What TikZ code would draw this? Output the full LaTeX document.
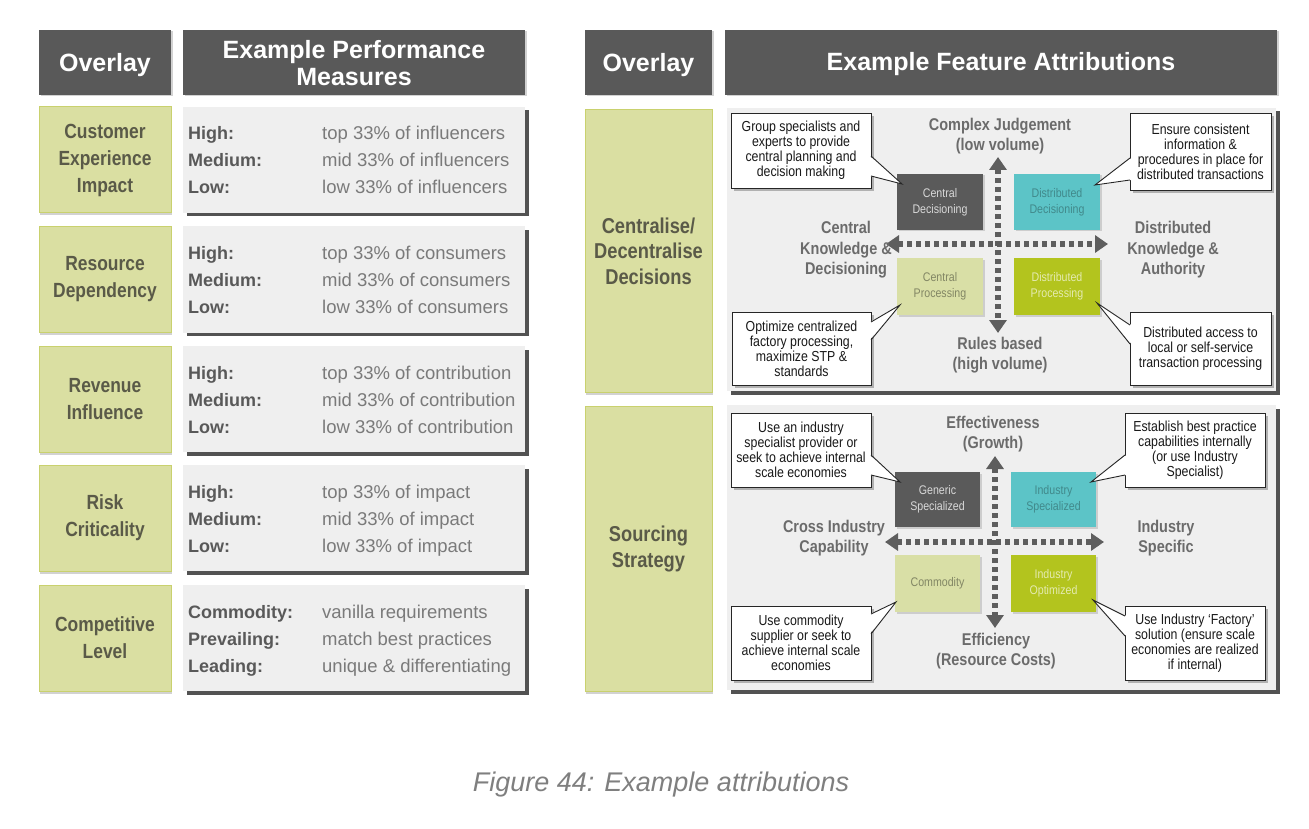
\documentclass[tikz,border=0pt]{standalone}
\usepackage{fontspec}
\setmainfont{Liberation Sans}
\newfontfamily\nsf[FakeStretch=0.85,Ligatures=TeX]{Liberation Sans}
\usetikzlibrary{arrows.meta,shadows}
\definecolor{hdrgray}{HTML}{595959}
\definecolor{olivefill}{HTML}{DADFA2}
\definecolor{olivedraw}{HTML}{C9D16E}
\definecolor{olivetext}{HTML}{5A5A48}
\definecolor{bodyfill}{HTML}{EFEFEF}
\definecolor{labtext}{HTML}{595959}
\definecolor{valtext}{HTML}{7A7A7A}
\definecolor{darkq}{HTML}{5A5A5A}
\definecolor{tealq}{HTML}{5CC4C7}
\definecolor{paleq}{HTML}{D9DFA6}
\definecolor{limeq}{HTML}{B3C41E}
\definecolor{axisgray}{HTML}{5E5E5E}
\definecolor{axtext}{HTML}{6B6B6B}
\definecolor{captext}{HTML}{7F7F7F}
\newcommand{\fsz}[2]{\fontsize{#1}{#2}\selectfont}
\tikzset{
 hdrbox/.style={fill=hdrgray, text=white, font=\bfseries\fsz{25}{27}, align=center, inner sep=0pt,
   drop shadow={shadow xshift=1.5pt, shadow yshift=-1.5pt, opacity=0.35}},
 hdrtext/.style={text=white, font=\bfseries\fsz{25}{27}, align=center, inner sep=0pt},
 olivebox/.style={fill=olivefill, draw=olivedraw, line width=1pt, text=olivetext, align=center, inner sep=0pt,
   drop shadow={shadow xshift=1pt, shadow yshift=-2.5pt, opacity=0.35}},
 lefttitle/.style={olivebox, font=\nsf\bfseries\fsz{20.5}{27}},
 righttitle/.style={olivebox, font=\nsf\bfseries\fsz{21.5}{25.5}},
 bodybox/.style={fill=bodyfill, inner sep=0pt,
   drop shadow={shadow xshift=3.5pt, shadow yshift=-3.5pt, fill=black!68, opacity=1}},
 panel/.style={fill=bodyfill, inner sep=0pt,
   drop shadow={shadow xshift=3.5pt, shadow yshift=-3.5pt, fill=black!68, opacity=1}},
 lab/.style={anchor=base west, inner sep=0pt, text=labtext, font=\bfseries\fsz{18}{20}},
 val/.style={anchor=base west, inner sep=0pt, text=valtext, font=\fsz{18.5}{20}},
 quad/.style={inner sep=0pt, align=center, font=\nsf\fsz{12.5}{16},
   drop shadow={shadow xshift=1.5pt, shadow yshift=-1.5pt, opacity=0.3}},
 axlab/.style={inner sep=0pt, align=center, text=axtext, font=\nsf\bfseries\fsz{17}{20.5}},
 darr/.style={draw=axisgray, line width=5.5pt, dash pattern=on 5pt off 4pt,
   {Triangle[width=17pt,length=13pt]}-{Triangle[width=17pt,length=13pt]}},
 callbox/.style={fill=white, draw=black!85, line width=0.9pt, inner sep=0pt, align=center,
   text=black!90, font=\nsf\fsz{14.5}{15},
   drop shadow={shadow xshift=3pt, shadow yshift=-3pt, fill=black!60, opacity=0.45}},
 callline/.style={draw=black!85, line width=0.9pt, line join=miter},
}
\begin{document}
\begin{tikzpicture}[x=1pt,y=-1pt]
\path[use as bounding box, fill=white] (0,0) rectangle (1309,829);

% ---------- Left table ----------
\node[hdrbox, minimum width=132pt, minimum height=65pt] (lh1) at (105,62.5) {};
\node[hdrtext] (lh1t) at (105,65.5) {Overlay};
\node[hdrbox, minimum width=342pt, minimum height=65pt] (lh2) at (354,62.5) {};
\node[hdrtext] (lh2t) at (354,63.5) {Example Performance\\Measures};

% rows
\node[lefttitle, minimum width=132pt, minimum height=106pt] (g1) at (105,160) {Customer\\Experience\\Impact};
\node[bodybox, minimum width=342pt, minimum height=106pt] (b1) at (354,160) {};
\node[lefttitle, minimum width=132pt, minimum height=106pt] (g2) at (105,279.5) {Resource\\Dependency};
\node[bodybox, minimum width=342pt, minimum height=106pt] (b2) at (354,279.5) {};
\node[lefttitle, minimum width=132pt, minimum height=106pt] (g3) at (105,399) {Revenue\\Influence};
\node[bodybox, minimum width=342pt, minimum height=106pt] (b3) at (354,399) {};
\node[lefttitle, minimum width=132pt, minimum height=106pt] (g4) at (105,518) {Risk\\Criticality};
\node[bodybox, minimum width=342pt, minimum height=106pt] (b4) at (354,518) {};
\node[lefttitle, minimum width=132pt, minimum height=106pt] (g5) at (105,638) {Competitive\\Level};
\node[bodybox, minimum width=342pt, minimum height=106pt] (b5) at (354,638) {};

% row texts
\node[lab] (l11) at (188,140) {High:};
\node[lab] (l12) at (188,167) {Medium:};
\node[lab] (l13) at (188,194) {Low:};
\node[val] (v11) at (322,140) {top 33\% of influencers};
\node[val] (v12) at (322,167) {mid 33\% of influencers};
\node[val] (v13) at (322,194) {low 33\% of influencers};

\node[lab] (l21) at (188,259.5) {High:};
\node[lab] (l22) at (188,286.5) {Medium:};
\node[lab] (l23) at (188,313.5) {Low:};
\node[val] (v21) at (322,259.5) {top 33\% of consumers};
\node[val] (v22) at (322,286.5) {mid 33\% of consumers};
\node[val] (v23) at (322,313.5) {low 33\% of consumers};

\node[lab] (l31) at (188,379) {High:};
\node[lab] (l32) at (188,406) {Medium:};
\node[lab] (l33) at (188,433) {Low:};
\node[val] (v31) at (322,379) {top 33\% of contribution};
\node[val] (v32) at (322,406) {mid 33\% of contribution};
\node[val] (v33) at (322,433) {low 33\% of contribution};

\node[lab] (l41) at (188,498) {High:};
\node[lab] (l42) at (188,525) {Medium:};
\node[lab] (l43) at (188,552) {Low:};
\node[val] (v41) at (322,498) {top 33\% of impact};
\node[val] (v42) at (322,525) {mid 33\% of impact};
\node[val] (v43) at (322,552) {low 33\% of impact};

\node[lab] (l51) at (188,618) {Commodity:};
\node[lab] (l52) at (188,645) {Prevailing:};
\node[lab] (l53) at (188,672) {Leading:};
\node[val] (v51) at (322,618) {vanilla requirements};
\node[val] (v52) at (322,645) {match best practices};
\node[val] (v53) at (322,672) {unique \& differentiating};

% ---------- Right table ----------
\node[hdrbox, minimum width=127pt, minimum height=65pt] (rh1) at (648.5,62.5) {};
\node[hdrtext] (rh1t) at (648.5,65.5) {Overlay};
\node[hdrbox, minimum width=552pt, minimum height=65pt] (rh2) at (1001,62.5) {};
\node[hdrtext] (rh2t) at (1001,64.5) {Example Feature Attributions};

\node[righttitle, minimum width=127pt, minimum height=283pt] (rg1) at (648.5,251) {Centralise/\\Decentralise\\Decisions};
\node[righttitle, minimum width=127pt, minimum height=285pt] (rg2) at (648.5,549) {Sourcing\\Strategy};

\node[panel, minimum width=549pt, minimum height=283pt] (p1) at (1001.5,249.5) {};
\node[panel, minimum width=549pt, minimum height=285pt] (p2) at (1001.5,547.5) {};

% ---- top panel ----
\node[quad, fill=darkq, text=white!85!black, minimum width=86pt, minimum height=56pt] (cd) at (940,202) {Central\\Decisioning};
\node[quad, fill=tealq, text=tealq!70!black, minimum width=86pt, minimum height=56pt] (dd) at (1057,202) {Distributed\\Decisioning};
\node[quad, fill=paleq, text=paleq!60!black, minimum width=86pt, minimum height=57pt] (cp) at (940,286.5) {Central\\Processing};
\node[quad, fill=limeq, text=limeq!35!white, minimum width=86pt, minimum height=57pt] (dp) at (1057,286.5) {Distributed\\Processing};

\coordinate (tvn) at (998,157);
\coordinate (tvs) at (998,333);
\coordinate (thw) at (886,244);
\coordinate (the) at (1108,244);
\draw[darr] (tvn) -- (tvs);
\draw[darr] (thw) -- (the);

\node[axlab] (tn) at (1000,136) {Complex Judgement\\(low volume)};
\node[axlab] (tw) at (846,250) {Central\\Knowledge \&\\Decisioning};
\node[axlab] (te) at (1173,250) {Distributed\\Knowledge \&\\Authority};
\node[axlab] (ts) at (1000,355) {Rules based\\(high volume)};

% callouts top panel
\node[callbox, minimum width=140pt, minimum height=75pt] (ctl) at (801,150.5) {Group specialists and\\experts to provide\\central planning and\\decision making};
\coordinate (ctlt) at (902,184);
\fill[white] (869.6,156) -- (ctlt) -- (869.6,176) -- cycle;
\draw[callline] (871,156) -- (ctlt) -- (871,176);

\node[callbox, minimum width=141pt, minimum height=77pt] (ctr) at (1200.5,151.5) {Ensure consistent\\information \&\\procedures in place for\\distributed transactions};
\coordinate (ctrt) at (1095,185);
\fill[white] (1131.4,158) -- (ctrt) -- (1131.4,180) -- cycle;
\draw[callline] (1130,158) -- (ctrt) -- (1130,180);

\node[callbox, minimum width=139pt, minimum height=73pt] (cbl) at (801.5,348.5) {Optimize centralized\\factory processing,\\maximize STP \&\\standards};
\coordinate (cblt) at (900,305);
\fill[white] (869.6,322) -- (cblt) -- (869.6,340) -- cycle;
\draw[callline] (871,322) -- (cblt) -- (871,340);

\node[callbox, minimum width=141pt, minimum height=73pt] (cbr) at (1200.5,348.5) {Distributed access to\\local or self-service\\transaction processing};
\coordinate (cbrt) at (1097,303);
\fill[white] (1131.4,325) -- (cbrt) -- (1131.4,344) -- cycle;
\draw[callline] (1130,325) -- (cbrt) -- (1130,344);

% ---- bottom panel ----
\node[quad, fill=darkq, text=white!85!black, minimum width=85pt, minimum height=55pt] (gs) at (937.5,499.5) {Generic\\Specialized};
\node[quad, fill=tealq, text=tealq!70!black, minimum width=85pt, minimum height=55pt] (is) at (1053.5,499.5) {Industry\\Specialized};
\node[quad, fill=paleq, text=paleq!60!black, minimum width=85pt, minimum height=57pt] (co) at (937.5,583.5) {Commodity};
\node[quad, fill=limeq, text=limeq!35!white, minimum width=85pt, minimum height=57pt] (io) at (1053.5,583.5) {Industry\\Optimized};

\coordinate (bvn) at (995,456);
\coordinate (bvs) at (995,628);
\coordinate (bhw) at (885,542);
\coordinate (bhe) at (1104,542);
\draw[darr] (bvn) -- (bvs);
\draw[darr] (bhw) -- (bhe);

\node[axlab] (bn) at (993,434) {Effectiveness\\(Growth)};
\node[axlab] (bw) at (834,538) {Cross Industry\\Capability};
\node[axlab] (be) at (1166,538) {Industry\\Specific};
\node[axlab] (bs) at (996,651) {Efficiency\\(Resource Costs)};

\node[callbox, minimum width=140pt, minimum height=74pt] (dtl) at (801,450) {Use an industry\\specialist provider or\\seek to achieve internal\\scale economies};
\coordinate (dtlt) at (900,482);
\fill[white] (869.6,455) -- (dtlt) -- (869.6,475) -- cycle;
\draw[callline] (871,455) -- (dtlt) -- (871,475);

\node[callbox, minimum width=140pt, minimum height=74pt] (dtr) at (1195,450) {Establish best practice\\capabilities internally\\(or use Industry\\Specialist)};
\coordinate (dtrt) at (1091,482);
\fill[white] (1126.4,455) -- (dtrt) -- (1126.4,475) -- cycle;
\draw[callline] (1125,455) -- (dtrt) -- (1125,475);

\node[callbox, minimum width=140pt, minimum height=74pt] (dbl) at (801,643) {Use commodity\\supplier or seek to\\achieve internal scale\\economies};
\coordinate (dblt) at (896,602);
\fill[white] (869.6,614) -- (dblt) -- (869.6,634) -- cycle;
\draw[callline] (871,614) -- (dblt) -- (871,634);

\node[callbox, minimum width=140pt, minimum height=74pt] (dbr) at (1195,643) {Use Industry ‘Factory’\\solution (ensure scale\\economies are realized\\if internal)};
\coordinate (dbrt) at (1093,600);
\fill[white] (1126.4,616) -- (dbrt) -- (1126.4,636) -- cycle;
\draw[callline] (1125,616) -- (dbrt) -- (1125,636);

% caption
\node[inner sep=0pt, text=captext, font=\itshape\fsz{27}{30}] (cap) at (661,785) {Figure 44: Example attributions};
\end{tikzpicture}
\end{document}
